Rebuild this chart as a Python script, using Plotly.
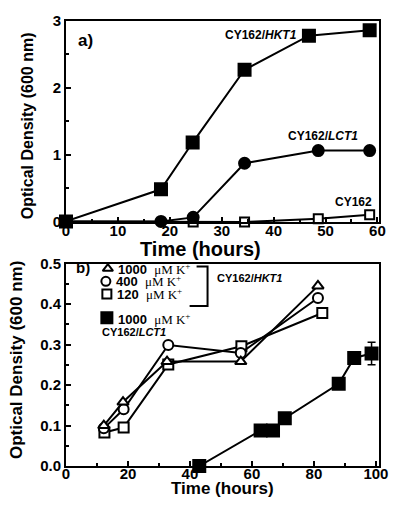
import plotly.graph_objects as go

# ---- Panel a) data ----
hkt1_x = [0, 18.3, 24.4, 34.4, 46.8, 58.5]
hkt1_y = [0.0, 0.48, 1.18, 2.27, 2.78, 2.86]
lct1_x = [0, 18.3, 24.5, 34.4, 48.6, 58.5]
lct1_y = [0.0, 0.0, 0.06, 0.87, 1.06, 1.06]
cy162_x = [0, 24.5, 34.4, 48.6, 58.5]
cy162_y = [0.0, -0.01, -0.01, 0.04, 0.10]

# ---- Panel b) data ----
k1000_x = [12.2, 18.4, 32.6, 56.4, 81.3]
k1000_y = [0.100, 0.158, 0.258, 0.258, 0.445]
k400_x = [12.2, 18.6, 33.0, 56.4, 81.3]
k400_y = [0.093, 0.140, 0.299, 0.279, 0.415]
k120_x = [12.4, 18.6, 33.0, 56.6, 82.7]
k120_y = [0.083, 0.095, 0.251, 0.296, 0.378]
lct_x = [43.0, 62.8, 66.8, 70.6, 88.0, 93.0, 98.6]
lct_y = [0.000, 0.088, 0.088, 0.118, 0.203, 0.267, 0.278]
lct_err = [0, 0, 0, 0, 0, 0, 0.028]

xticks_a = [0, 10, 20, 30, 40, 50, 60]
yticks_a = [0, 1, 2, 3]
xticks_b = [0, 20, 40, 60, 80, 100]
yticks_b = [0.0, 0.1, 0.2, 0.3, 0.4, 0.5]

FONT = "Liberation Sans"
BLACK = "black"
L, R, T, B = 66, 20, 13, 43
W, H = 400, 509
PW, PH = W - L - R, H - T - B


def px(x):
    return (x - L) / PW


def py(y):
    return (H - B - y) / PH


fig = go.Figure()


def line_trace(x, y, symbol, size, xa, ya, filled=True, err=None):
    marker = dict(symbol=symbol, size=size, color=BLACK if filled else "white",
                  line=dict(color=BLACK, width=2))
    t = go.Scatter(x=x, y=y, mode="lines+markers", xaxis=xa, yaxis=ya,
                   line=dict(color=BLACK, width=2), marker=marker,
                   showlegend=False, cliponaxis=False)
    if err is not None:
        t.error_y = dict(type="data", array=err, visible=True, color=BLACK,
                         thickness=1.5, width=4)
    return t


# Panel a
fig.add_trace(line_trace(cy162_x, cy162_y, "square", 9, "x", "y", filled=False))
fig.add_trace(line_trace(lct1_x, lct1_y, "circle", 11, "x", "y"))
fig.add_trace(line_trace(hkt1_x, hkt1_y, "square", 12, "x", "y"))

# Panel b
fig.add_trace(line_trace(k120_x, k120_y, "square", 10, "x2", "y2", filled=False))
fig.add_trace(line_trace(k400_x, k400_y, "circle", 10, "x2", "y2", filled=False))
fig.add_trace(line_trace(k1000_x, k1000_y, "triangle-up", 10, "x2", "y2", filled=False))
fig.add_trace(line_trace(lct_x, lct_y, "square", 12, "x2", "y2", err=lct_err))

# Legend symbols for panel b, placed on a hidden pixel-coordinate overlay axis
leg_px = [108, 106, 107, 107]
leg_py = [265, 278, 291, 315]
leg_sym = ["triangle-up", "circle", "square", "square"]
leg_fill = ["white", "white", "white", BLACK]
leg_size = [9, 9, 9, 11]
fig.add_trace(go.Scatter(x=leg_px, y=leg_py, mode="markers", xaxis="x3", yaxis="y3",
                         marker=dict(symbol=leg_sym, size=leg_size, color=leg_fill,
                                     opacity=1, line=dict(color=BLACK, width=2)),
                         showlegend=False, cliponaxis=False, hoverinfo="skip"))
# bracket
fig.add_trace(go.Scatter(x=[197, 208, 208, 190], y=[263, 263, 303, 303], mode="lines",
                         xaxis="x3", yaxis="y3", line=dict(color=BLACK, width=2),
                         showlegend=False, cliponaxis=False, hoverinfo="skip"))

axis_common = dict(showline=True, linecolor=BLACK, linewidth=2, mirror=True,
                   ticks="inside", ticklen=5, tickwidth=1.5, tickcolor=BLACK,
                   showgrid=False, zeroline=False,
                   tickfont=dict(family=FONT, size=15, color=BLACK))

fig.update_layout(
    width=W, height=H,
    margin=dict(l=L, r=R, t=T, b=B),
    paper_bgcolor="white", plot_bgcolor="rgba(0,0,0,0)",
    font=dict(family=FONT, color=BLACK),
    xaxis=dict(domain=[0, 1], range=[0, 60.3], anchor="y", tickvals=xticks_a,
               ticktext=[f"<b>{v}</b>" for v in xticks_a], ticklabelstandoff=-6,
               minor=dict(dtick=5, ticks="inside", ticklen=3, tickcolor=BLACK),
               **axis_common),
    yaxis=dict(domain=[py(218), 1], range=[-0.015, 3.0], anchor="x", tickvals=yticks_a,
               ticktext=[f"<b>{v}</b>" for v in yticks_a],
               minor=dict(dtick=0.5, ticks="inside", ticklen=3, tickcolor=BLACK),
               **axis_common),
    xaxis2=dict(domain=[0, 1], range=[0, 101], anchor="y2", tickvals=xticks_b,
                ticktext=[f"<b>{v}</b>" for v in xticks_b], ticklabelstandoff=-7,
                minor=dict(dtick=10, ticks="inside", ticklen=3, tickcolor=BLACK),
                **axis_common),
    yaxis2=dict(domain=[0, py(260)], range=[0, 0.5], anchor="x2", tickvals=yticks_b,
                ticktext=[f"<b>{v:.1f}</b>" for v in yticks_b],
                minor=dict(dtick=0.05, ticks="inside", ticklen=3, tickcolor=BLACK),
                **axis_common),
    xaxis3=dict(domain=[0, 1], range=[L, W - R], anchor="y3", visible=False,
                overlaying="x"),
    yaxis3=dict(domain=[0, 1], range=[H - B, T], anchor="x3", visible=False),
)


def ann(x, y, text, size, xanchor="center", angle=0):
    fig.add_annotation(x=px(x), y=py(y), xref="paper", yref="paper", text=text,
                       showarrow=False, xanchor=xanchor, yanchor="middle",
                       textangle=angle,
                       font=dict(family=FONT, size=size, color=BLACK))


# axis titles
ann(201, 245, "<b>Time (hours)</b>", 20)
ann(223, 489, "<b>Time (hours)</b>", 17)
ann(27, 120, "<b>Optical Density (600 nm)</b>", 16, angle=-90)
ann(17, 358, "<b>Optical Density (600 nm)</b>", 17, angle=-90)

# panel a labels
ann(76, 33, "<b>a)</b>", 17, xanchor="left")
ann(262, 27, "<b>CY162/<i>HKT1</i></b>", 12)
ann(324, 130, "<b>CY162/<i>LCT1</i></b>", 12)
ann(354, 197, "<b>CY162</b>", 12)

# panel b labels
ann(74, 264, "<b>b)</b>", 15, xanchor="left")
mu = "<span style='font-family:Liberation Serif;font-weight:normal'>μM K<sup>+</sup></span>"
ann(116, 265, "<b>1000</b>  " + mu, 13, xanchor="left")
ann(114, 278, "<b>400</b>  " + mu, 13, xanchor="left")
ann(115, 291, "<b>120</b>  " + mu, 13, xanchor="left")
ann(116, 316, "<b>1000</b>  " + mu, 13, xanchor="left")
ann(134, 330, "<b>CY162/<i>LCT1</i></b>", 11)
ann(250, 275, "<b>CY162/<i>HKT1</i></b>", 11)

fig.write_html("out.html", config={"displayModeBar": False},
               post_script="document.body.style.margin='0';document.body.style.padding='0';")
